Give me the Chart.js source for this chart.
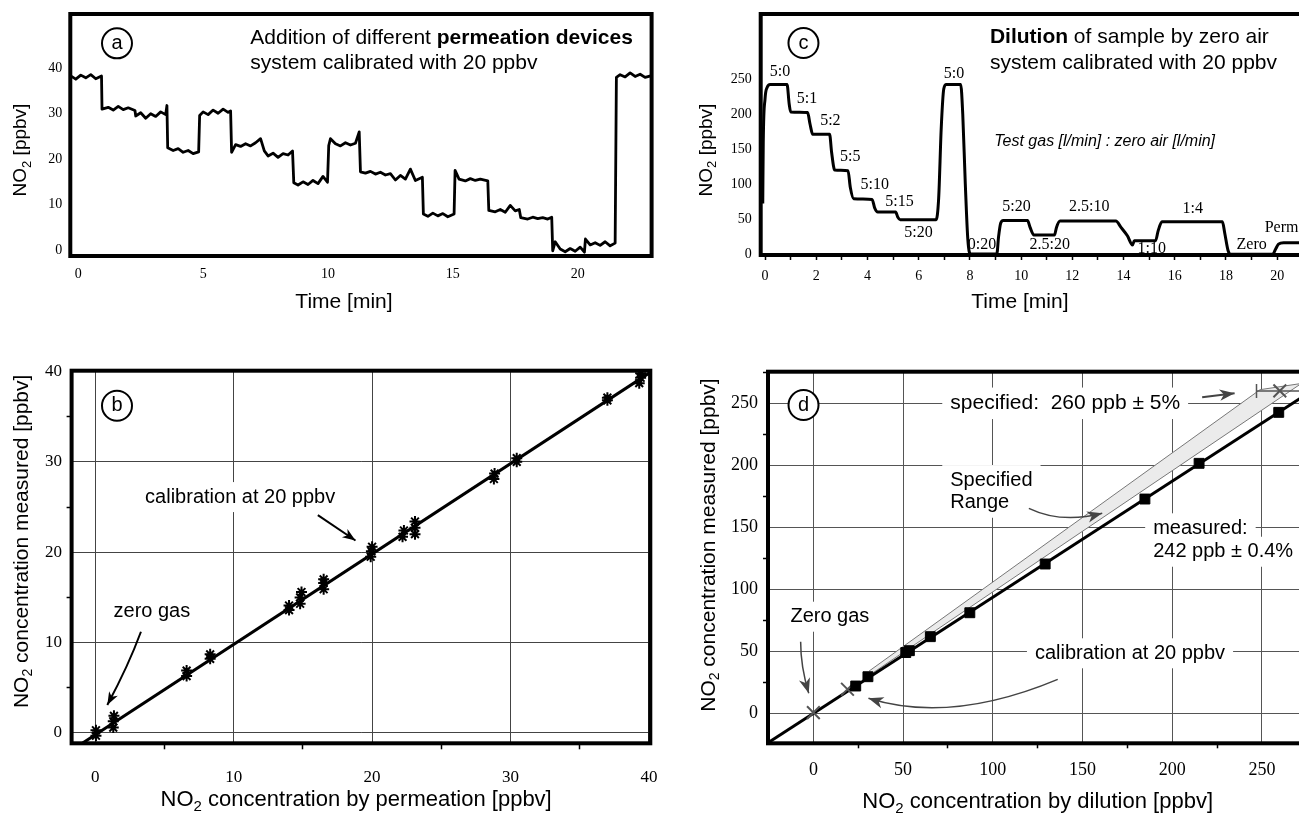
<!DOCTYPE html>
<html>
<head>
<meta charset="utf-8">
<script src="https://cdn.jsdelivr.net/npm/chart.js@4.4.1/dist/chart.umd.min.js"></script>
<style>
  html, body { margin: 0; padding: 0; background: #fff; }
  #page { position: relative; width: 1299px; height: 818px; overflow: hidden; background: #fff; }
  canvas { position: absolute; }
</style>
</head>
<body>
<div id="page">
  <canvas id="chartA" width="660" height="320" style="left:0;top:0"></canvas>
  <canvas id="chartC" width="700" height="320" style="left:660px;top:0"></canvas>
  <canvas id="chartB" width="660" height="498" style="left:0;top:320px"></canvas>
  <canvas id="chartD" width="700" height="498" style="left:660px;top:320px"></canvas>
</div>
<script>
const SANS = '"Liberation Sans", Arial, Helvetica, sans-serif';
const SERIF = '"Liberation Serif", "Times New Roman", serif';

// (a) permeation devices, time series
const timeA = [
  -0.32, -0.1, 0.1, 0.3, 0.5, 0.7, 0.93,
  0.95, 1.2, 1.4, 1.6, 1.8, 2.0, 2.27,
  2.3, 2.5, 2.7, 2.9, 3.1, 3.3, 3.5, 3.55,
  3.58, 3.8, 4.0, 4.2, 4.4, 4.6, 4.82,
  4.86, 5.0, 5.2, 5.4, 5.6, 5.8, 6.0, 6.1,
  6.14, 6.3, 6.5, 6.7, 6.9, 7.1, 7.3,
  7.45, 7.6, 7.8, 8.0, 8.2, 8.4, 8.58,
  8.63, 8.8, 9.0, 9.2, 9.4, 9.6, 9.8, 9.98,
  10.03, 10.1, 10.3, 10.5, 10.7, 10.9, 11.1, 11.25,
  11.3, 11.5, 11.7, 11.9, 12.1, 12.3, 12.5,
  12.7, 12.9, 13.1, 13.3, 13.5, 13.78,
  13.82, 14.0, 14.2, 14.4, 14.6, 14.8, 15.05,
  15.09, 15.25, 15.5, 15.7, 15.9, 16.1, 16.4,
  16.44, 16.7, 16.9, 17.1, 17.3, 17.5, 17.66,
  17.72, 18.0, 18.2, 18.4, 18.6, 18.8, 18.96,
  19.0, 19.1, 19.3, 19.5, 19.7, 19.9, 20.1, 20.27,
  20.31, 20.5, 20.7, 20.9, 21.1, 21.3, 21.5,
  21.55, 21.7, 21.9, 22.1, 22.3, 22.5, 22.7, 22.96
];
const no2A = [
  38.4, 37.6, 38.5, 37.9, 38.6, 37.7, 38.3,
  31.0, 31.4, 30.8, 31.6, 30.9, 31.3, 30.7,
  29.5, 30.2, 29.0, 30.0, 29.4, 30.4, 29.8, 31.8,
  22.5, 21.9, 22.3, 21.5, 21.9, 21.2, 21.6,
  29.6, 30.4, 29.8, 30.8, 30.1, 31.0, 30.3, 30.6,
  21.5, 23.2, 22.8, 23.4, 22.9, 23.6, 24.5,
  21.8, 20.7, 21.3, 20.4, 21.2, 20.9, 21.8,
  14.8, 14.3, 15.0, 14.4, 15.3, 14.6, 16.2, 14.9,
  23.0, 24.5, 23.4, 22.9, 23.6, 23.1, 23.5, 26.0,
  17.2, 16.9, 17.3, 16.7, 17.1, 16.5, 16.8,
  15.4, 16.4, 15.6, 17.8, 15.3, 16.0,
  7.9, 7.4, 8.1, 7.5, 8.0, 7.3, 7.9,
  17.5, 15.6, 15.2, 15.7, 15.3, 15.6, 15.2,
  8.7, 8.4, 8.9, 8.3, 9.8, 8.6, 8.9,
  7.1, 6.8, 7.2, 6.9, 7.1, 6.8, 7.2,
  -0.2, 1.8, 0.2, -0.4, 0.3, -0.3, 0.6, -0.5,
  2.4, 1.1, 1.6, 1.0, 1.8, 0.9, 1.5,
  38.0, 38.6, 38.1, 39.0, 38.2, 38.7, 38.0, 38.4
];
const xTicksA = [0, 5, 10, 15, 20];
const yTicksA = [0, 10, 20, 30, 40];

// (c) dilution by zero air, time series
const timeC = [-0.09, -0.07, 0.0, 0.08, 0.2, 0.86, 0.94, 1.0, 1.66, 1.76, 1.86, 2.52, 2.6, 2.72, 3.24,
  3.33, 3.46, 4.18, 4.28, 4.4, 5.1, 5.18, 5.28, 6.68, 6.78, 6.88, 6.98, 7.08, 7.64, 7.72, 7.82, 7.92,
  8.02, 9.05, 9.12, 9.2, 9.3, 10.25, 10.35, 10.5, 11.3, 11.38, 11.52, 13.7, 13.9, 14.15, 14.35, 14.42,
  15.25, 15.35, 15.5, 17.86, 17.95, 18.08, 18.18, 19.82, 19.95, 20.05, 20.25, 22.6];
const no2C = [72, 160, 222, 238, 242, 242, 215, 203, 202, 185, 171, 171, 145, 120, 119,
  95, 79, 78, 66, 60, 60, 53, 49, 49, 80, 180, 236, 242, 242, 200, 100, 20,
  0, 0, 25, 44, 48, 48, 38, 27, 27, 38, 47, 47, 38, 26, 13, 19,
  19, 33, 46, 46, 30, 5, -0.5, -0.5, 8, 14, 16, 16];
const xTicksC = [0, 1, 2, 3, 4, 5, 6, 7, 8, 9, 10, 11, 12, 13, 14, 15, 16, 17, 18, 19, 20, 21, 22];
const xLabelsC = [0, 2, 4, 6, 8, 10, 12, 14, 16, 18, 20, 22];
const yTicksC = [0, 50, 100, 150, 200, 250];
const ratioNames = ['5:0', '5:1', '5:2', '5:5', '5:10', '5:15', '5:20', '5:0', '0:20', '5:20', '2.5:20', '2.5:10', '1:10', '1:4', 'Zero', 'Perm'];
const ratioTime = [0.58, 1.64, 2.55, 3.33, 4.28, 5.25, 5.99, 7.38, 8.47, 9.82, 11.12, 12.66, 15.1, 16.7, 19.0, 20.17];
const ratioLevel = [260, 222, 190, 139, 99, 74, 30, 258, 13, 68, 13, 67, 8, 64, 13, 37];

// (b) measured vs permeation
const permX = [0.05, 0.05, 1.3, 1.3, 1.35, 6.6, 6.6, 8.3, 8.3, 14.0, 14.0, 14.8, 14.8, 14.9, 16.5, 16.5, 16.5,
  19.9, 19.95, 20.0, 22.2, 22.3, 23.1, 23.1, 23.1, 28.8, 28.85, 30.45, 30.45, 37.0, 37.0, 39.3, 39.4, 39.4];
const permMeasY = [-0.3, 0.3, 0.6, 1.3, 1.9, 6.3, 6.9, 8.2, 8.7, 13.6, 14.1, 14.3, 15.0, 15.6, 15.9, 16.6, 17.0,
  19.5, 20.1, 20.6, 21.7, 22.4, 22.0, 22.7, 23.4, 28.1, 28.7, 30.0, 30.4, 36.8, 37.1, 38.7, 39.3, 39.8];
const fitXB = [-1.8, 40.5];
const fitYB = [-2.0, 40.3];
const majorB = [0, 10, 20, 30, 40];
const minorB = [5, 15, 25, 35];

// (d) measured vs dilution
const dilX = [23.6, 30.4, 51.5, 53.5, 65.2, 87.2, 129.2, 184.8, 215, 259.4];
const dilMeasY = [22, 29.5, 49, 50.5, 61.8, 81.1, 120.4, 172.8, 201.6, 242.7];
const calX = [0, 19];
const calY = [0.5, 19.4];
const specX = [260];
const specY = [260];
const specErrX = [247, 273];
const fitXD = [-25.3, 290];
const fitYD = [-23.7, 271.4];
const bandX = [31, 249, 272, 31];
const bandY = [34, 261, 266, 30.5];
const majorD = [0, 50, 100, 150, 200, 250];
const minorD = [25, 75, 125, 175, 225, 275];

const pts = (xs, ys) => xs.map((x, i) => ({ x: x, y: ys[i] }));

function toPx(chart, x, y) {
  return [chart.scales.x.getPixelForValue(x), chart.scales.y.getPixelForValue(y)];
}

// fixed axis box so the plot frame lands where the figure has it
function fixX(h) {
  return s => { s.height = h; s.paddingLeft = 0; s.paddingRight = 0; };
}
function fixY(w) {
  return s => { s.width = w; s.paddingTop = 0; s.paddingBottom = 0; };
}

function runFont(style, size) {
  if (style === 'sub') return Math.round(size * 0.68) + 'px ' + SANS;
  if (style === 'serif') return size + 'px ' + SERIF;
  return (style === 'bold' ? 'bold ' : style === 'italic' ? 'italic ' : '') + size + 'px ' + SANS;
}

function runsWidth(ctx, runs, size) {
  let w = 0;
  runs.forEach(([t, s]) => { ctx.font = runFont(s, size); w += ctx.measureText(t).width; });
  return w;
}

function drawRuns(ctx, runs, x, y, size, align, rotate) {
  ctx.save();
  ctx.translate(x, y);
  if (rotate) ctx.rotate(-Math.PI / 2);
  const total = runsWidth(ctx, runs, size);
  let cx = align === 'center' ? -total / 2 : 0;
  ctx.textAlign = 'left';
  ctx.textBaseline = 'middle';
  ctx.fillStyle = '#000';
  runs.forEach(([t, s]) => {
    ctx.font = runFont(s, size);
    ctx.fillText(t, cx, s === 'sub' ? size * 0.32 : 0);
    cx += ctx.measureText(t).width;
  });
  ctx.restore();
}

function frame(chart, w) {
  const a = chart.chartArea, ctx = chart.ctx;
  ctx.save();
  ctx.strokeStyle = '#000';
  ctx.lineWidth = w;
  ctx.strokeRect(a.left, a.top, a.right - a.left, a.bottom - a.top);
  ctx.restore();
}

function tag(chart, letter, x, y) {
  const ctx = chart.ctx;
  const [cx, cy] = toPx(chart, x, y);
  ctx.save();
  ctx.beginPath();
  ctx.arc(cx, cy, 15, 0, Math.PI * 2);
  ctx.fillStyle = '#fff';
  ctx.fill();
  ctx.lineWidth = 2;
  ctx.strokeStyle = '#000';
  ctx.stroke();
  ctx.restore();
  drawRuns(ctx, [[letter, '']], cx, cy, 20, 'center');
}

// straight or curved (through a middle point) arrow in data units
function arrow(chart, path, color, width, head) {
  const ctx = chart.ctx;
  const p = path.map(([x, y]) => toPx(chart, x, y));
  ctx.save();
  ctx.strokeStyle = color;
  ctx.fillStyle = color;
  ctx.lineWidth = width;
  ctx.beginPath();
  ctx.moveTo(p[0][0], p[0][1]);
  let from;
  if (p.length === 3) {
    const cx = 2 * p[1][0] - (p[0][0] + p[2][0]) / 2;
    const cy = 2 * p[1][1] - (p[0][1] + p[2][1]) / 2;
    ctx.quadraticCurveTo(cx, cy, p[2][0], p[2][1]);
    from = [cx, cy];
  } else {
    ctx.lineTo(p[1][0], p[1][1]);
    from = p[0];
  }
  ctx.stroke();
  const [ex, ey] = p[p.length - 1];
  const a = Math.atan2(ey - from[1], ex - from[0]);
  const c = Math.cos(a), s = Math.sin(a), w = head * 0.38;
  ctx.beginPath();
  ctx.moveTo(ex, ey);
  ctx.lineTo(ex - head * c + w * s, ey - head * s - w * c);
  ctx.lineTo(ex - head * 0.72 * c, ey - head * 0.72 * s);
  ctx.lineTo(ex - head * c - w * s, ey - head * s + w * c);
  ctx.closePath();
  ctx.fill();
  ctx.restore();
}

// notes: text in data units; bg = white box that cuts the grid, under = drawn below the data
function notesPlugin(id, notes, above) {
  return {
    id: id,
    beforeDatasetsDraw(chart) {
      const ctx = chart.ctx;
      notes.forEach(n => {
        const [x, y] = toPx(chart, n.x, n.y);
        if (n.bg) {
          const w = runsWidth(ctx, n.runs, n.size);
          const left = n.align === 'center' ? x - w / 2 : x;
          ctx.save();
          ctx.fillStyle = '#fff';
          ctx.fillRect(left - 8, y - n.size * 0.75, w + 16, n.size * 1.5);
          ctx.restore();
        }
        if (n.under) drawRuns(ctx, n.runs, x, y, n.size, n.align);
      });
    },
    afterDraw(chart) {
      notes.filter(n => !n.under).forEach(n => {
        const [x, y] = toPx(chart, n.x, n.y);
        drawRuns(chart.ctx, n.runs, x, y, n.size, n.align);
      });
      above(chart);
    }
  };
}

const NO2 = [['NO', ''], ['2', 'sub']];

// ---------- (a)
const notesA = [
  { runs: [['Addition of different ', ''], ['permeation devices', 'bold']], x: 6.89, y: 46.7, size: 21, align: 'left' },
  { runs: [['system calibrated with 20 ppbv', '']], x: 6.89, y: 41.1, size: 21, align: 'left' }
];
new Chart(document.getElementById('chartA'), {
  type: 'scatter',
  data: {
    datasets: [{
      data: pts(timeA, no2A),
      showLine: true,
      borderColor: '#000',
      borderWidth: 2.8,
      borderJoinStyle: 'round',
      pointRadius: 0
    }]
  },
  options: {
    responsive: false,
    animation: false,
    devicePixelRatio: 1,
    layout: { autoPadding: false, padding: { top: 14, right: 8.4, left: 0, bottom: 0 } },
    plugins: { legend: { display: false }, tooltip: { enabled: false } },
    scales: {
      x: {
        type: 'linear', min: -0.32, max: 22.96,
        afterFit: fixX(64),
        afterBuildTicks: s => { s.ticks = xTicksA.map(v => ({ value: v })); },
        grid: { display: false, drawTicks: false },
        border: { display: false },
        ticks: { font: { family: SERIF, size: 14 }, color: '#000', padding: 10, maxRotation: 0, autoSkip: false }
      },
      y: {
        type: 'linear', min: -1.34, max: 51.96,
        afterFit: fixY(70.3),
        afterBuildTicks: s => { s.ticks = yTicksA.map(v => ({ value: v })); },
        grid: { display: false, drawTicks: false },
        border: { display: false },
        ticks: { font: { family: SERIF, size: 14 }, color: '#000', padding: 8 }
      }
    }
  },
  plugins: [notesPlugin('notesA', notesA, chart => {
    frame(chart, 4);
    tag(chart, 'a', 1.55, 45.5);
    const a = chart.chartArea;
    drawRuns(chart.ctx, [['Time [min]', '']], chart.scales.x.getPixelForValue(10.64), a.bottom + 46, 21, 'center');
    drawRuns(chart.ctx, NO2.concat([[' [ppbv]', '']]), 21, chart.scales.y.getPixelForValue(22), 19, 'center', true);
  })]
});

// ---------- (c)
const notesC = [
  { runs: [['Dilution', 'bold'], [' of sample by zero air', '']], x: 8.78, y: 310.4, size: 21, align: 'left' },
  { runs: [['system calibrated with 20 ppbv', '']], x: 8.78, y: 272.4, size: 21, align: 'left' },
  { runs: [['Test gas [l/min] : zero air [l/min]', 'italic']], x: 8.95, y: 160.4, size: 16, align: 'left' }
].concat(ratioNames.map((name, i) => ({
  runs: [[name, 'serif']], x: ratioTime[i], y: ratioLevel[i], size: 16, align: 'center', under: true
})));
new Chart(document.getElementById('chartC'), {
  type: 'scatter',
  data: {
    datasets: [{
      data: pts(timeC, no2C),
      showLine: true,
      borderColor: '#000',
      borderWidth: 3,
      cubicInterpolationMode: 'monotone',
      pointRadius: 0
    }]
  },
  options: {
    responsive: false,
    animation: false,
    devicePixelRatio: 1,
    layout: { autoPadding: false, padding: { top: 14, right: 18, left: 0, bottom: 0 } },
    plugins: { legend: { display: false }, tooltip: { enabled: false } },
    scales: {
      x: {
        type: 'linear', min: -0.17, max: 22.53,
        afterFit: fixX(65),
        afterBuildTicks: s => { s.ticks = xTicksC.map(v => ({ value: v })); },
        grid: { drawOnChartArea: false, drawTicks: true, tickLength: 5, tickWidth: 1.5, tickColor: '#000' },
        border: { display: false },
        ticks: {
          font: { family: SERIF, size: 14 }, color: '#000', padding: 8, maxRotation: 0, autoSkip: false,
          callback: v => (xLabelsC.includes(v) ? String(v) : '')
        }
      },
      y: {
        type: 'linear', min: -1.43, max: 342.9,
        afterFit: fixY(100.7),
        afterBuildTicks: s => { s.ticks = yTicksC.map(v => ({ value: v })); },
        grid: { display: false, drawTicks: false },
        border: { display: false },
        ticks: { font: { family: SERIF, size: 14 }, color: '#000', padding: 9 }
      }
    }
  },
  plugins: [notesPlugin('notesC', notesC, chart => {
    frame(chart, 4);
    tag(chart, 'c', 1.5, 301.4);
    const a = chart.chartArea;
    drawRuns(chart.ctx, [['Time [min]', '']], chart.scales.x.getPixelForValue(9.95), a.bottom + 47, 21, 'center');
    drawRuns(chart.ctx, NO2.concat([[' [ppbv]', '']]), 46.7, chart.scales.y.getPixelForValue(148.6), 19, 'center', true);
  })]
});

// ---------- (b)
const notesB = [
  { runs: [['calibration at 20 ppbv', '']], x: 3.6, y: 26.1, size: 20, align: 'left', bg: true },
  { runs: [['zero gas', '']], x: 1.32, y: 13.4, size: 20, align: 'left', bg: true }
];
const gridMajorB = ctx => (ctx.tick && majorB.includes(ctx.tick.value) ? '#444' : 'rgba(0,0,0,0)');
const tickMinorB = ctx => (ctx.tick && minorB.includes(ctx.tick.value) ? '#000' : 'rgba(0,0,0,0)');
new Chart(document.getElementById('chartB'), {
  type: 'scatter',
  data: {
    datasets: [{
      data: pts(permX, permMeasY),
      pointStyle: 'star',
      pointRadius: 5.5,
      pointBorderWidth: 2,
      pointBorderColor: '#000',
      showLine: false
    }, {
      data: pts(fitXB, fitYB),
      showLine: true,
      borderColor: '#000',
      borderWidth: 3,
      pointRadius: 0
    }]
  },
  options: {
    responsive: false,
    animation: false,
    devicePixelRatio: 1,
    layout: { autoPadding: false, padding: { top: 50.7, right: 9.7, left: 0, bottom: 0 } },
    plugins: { legend: { display: false }, tooltip: { enabled: false } },
    scales: {
      x: {
        type: 'linear', min: -1.71, max: 40.1,
        afterFit: fixX(74.7),
        afterBuildTicks: s => { s.ticks = majorB.concat(minorB).sort((p, q) => p - q).map(v => ({ value: v })); },
        grid: { color: gridMajorB, lineWidth: 1, tickLength: 6, tickColor: tickMinorB, tickWidth: 1.5 },
        border: { display: false },
        ticks: {
          font: { family: SERIF, size: 17 }, color: '#000', padding: 18, maxRotation: 0, autoSkip: false,
          callback: v => (majorB.includes(v) ? String(v) : '')
        }
      },
      y: {
        type: 'linear', min: -1.14, max: 40.08,
        afterFit: fixY(71.6),
        afterBuildTicks: s => { s.ticks = majorB.concat(minorB).sort((p, q) => p - q).map(v => ({ value: v })); },
        grid: { color: gridMajorB, lineWidth: 1, tickLength: 5, tickColor: tickMinorB, tickWidth: 1.5 },
        border: { display: false },
        ticks: {
          font: { family: SERIF, size: 17 }, color: '#000', padding: 4.6, autoSkip: false,
          callback: v => (majorB.includes(v) ? String(v) : '')
        }
      }
    }
  },
  plugins: [notesPlugin('notesB', notesB, chart => {
    frame(chart, 4);
    tag(chart, 'b', 1.57, 36.2);
    arrow(chart, [[16.08, 24.1], [18.8, 21.3]], '#000', 2, 13);
    arrow(chart, [[3.3, 11.2], [2.24, 7.3], [0.87, 3.1]], '#000', 2, 13);
    const a = chart.chartArea;
    drawRuns(chart.ctx, NO2.concat([[' concentration by permeation [ppbv]', '']]),
      chart.scales.x.getPixelForValue(18.85), a.bottom + 56.7, 22, 'center');
    drawRuns(chart.ctx, NO2.concat([[' concentration measured [ppbv]', '']]),
      21.9, chart.scales.y.getPixelForValue(21.2), 21, 'center', true);
  })]
});

// ---------- (d)
const notesD = [
  { runs: [['specified:  260 ppb \u00b1 5%', '']], x: 76.3, y: 250, size: 21, align: 'left', bg: true },
  { runs: [['Specified', '']], x: 76.3, y: 188.1, size: 20, align: 'left', bg: true },
  { runs: [['Range', '']], x: 76.3, y: 169.8, size: 20, align: 'left', bg: true },
  { runs: [['measured:', '']], x: 189.4, y: 149.2, size: 20, align: 'left', bg: true },
  { runs: [['242 ppb \u00b1 0.4%', '']], x: 189.4, y: 130.3, size: 20, align: 'left', bg: true },
  { runs: [['Zero gas', '']], x: -12.8, y: 77.9, size: 20, align: 'left', bg: true },
  { runs: [['calibration at 20 ppbv', '']], x: 123.5, y: 48.4, size: 20, align: 'left', bg: true }
];
const gridMajorD = ctx => (ctx.tick && majorD.includes(ctx.tick.value) ? '#555' : 'rgba(0,0,0,0)');
const tickMinorD = ctx => (ctx.tick && minorD.includes(ctx.tick.value) ? '#000' : 'rgba(0,0,0,0)');
new Chart(document.getElementById('chartD'), {
  type: 'scatter',
  data: {
    datasets: [{
      data: pts(dilX, dilMeasY),
      pointStyle: 'rect',
      pointRadius: 7,
      pointBackgroundColor: '#000',
      pointBorderColor: '#000',
      showLine: false
    }, {
      data: pts(calX, calY),
      pointStyle: 'crossRot',
      pointRadius: 9,
      pointBorderWidth: 2,
      pointBorderColor: '#555',
      showLine: false
    }, {
      data: pts(specX, specY),
      pointStyle: 'crossRot',
      pointRadius: 9,
      pointBorderWidth: 2,
      pointBorderColor: '#555',
      showLine: false
    }, {
      data: pts(specErrX, [specY[0], specY[0]]),
      showLine: true,
      borderColor: '#555',
      borderWidth: 1.5,
      pointStyle: 'line',
      rotation: 90,
      pointRadius: 7,
      pointBorderWidth: 1.5,
      pointBorderColor: '#555'
    }, {
      data: pts(fitXD, fitYD),
      showLine: true,
      borderColor: '#000',
      borderWidth: 3,
      pointRadius: 0
    }, {
      data: pts(bandX, bandY),
      showLine: true,
      fill: 'shape',
      backgroundColor: '#ebebeb',
      borderColor: '#777',
      borderWidth: 1,
      pointRadius: 0
    }]
  },
  options: {
    responsive: false,
    animation: false,
    devicePixelRatio: 1,
    layout: { autoPadding: false, padding: { top: 51.7, right: 26, left: 0, bottom: 0 } },
    plugins: { legend: { display: false }, tooltip: { enabled: false } },
    scales: {
      x: {
        type: 'linear', min: -25.3, max: 290.2,
        afterFit: fixX(74.7),
        afterBuildTicks: s => { s.ticks = majorD.concat(minorD).sort((p, q) => p - q).map(v => ({ value: v })); },
        grid: { color: gridMajorD, lineWidth: 1, tickLength: 5, tickColor: tickMinorD, tickWidth: 1.5 },
        border: { display: false },
        ticks: {
          font: { family: SERIF, size: 18 }, color: '#000', padding: 11, maxRotation: 0, autoSkip: false,
          callback: v => (majorD.includes(v) ? String(v) : '')
        }
      },
      y: {
        type: 'linear', min: -24.2, max: 275.5,
        afterFit: fixY(108),
        afterBuildTicks: s => { s.ticks = majorD.concat(minorD).sort((p, q) => p - q).map(v => ({ value: v })); },
        grid: { color: gridMajorD, lineWidth: 1, tickLength: 5, tickColor: tickMinorD, tickWidth: 1.5 },
        border: { display: false },
        ticks: {
          font: { family: SERIF, size: 18 }, color: '#000', padding: 5, autoSkip: false,
          callback: v => (majorD.includes(v) ? String(v) : '')
        }
      }
    }
  },
  plugins: [notesPlugin('notesD', notesD, chart => {
    frame(chart, 4);
    tag(chart, 'd', -5.5, 248.6);
    arrow(chart, [[216.7, 254.8], [234.8, 258.1]], '#444', 2, 15);
    arrow(chart, [[120.1, 165.3], [139.4, 158.0], [161, 161.3]], '#444', 1.5, 15);
    arrow(chart, [[-7.1, 57.7], [-6, 37.6], [-2.6, 16.1]], '#444', 1.5, 15);
    arrow(chart, [[136.2, 27.4], [80, 5.5], [30.7, 12.1]], '#444', 1.5, 15);
    const a = chart.chartArea;
    drawRuns(chart.ctx, NO2.concat([[' concentration by dilution [ppbv]', '']]),
      chart.scales.x.getPixelForValue(125), a.bottom + 58.4, 22, 'center');
    drawRuns(chart.ctx, NO2.concat([[' concentration measured [ppbv]', '']]),
      48.9, chart.scales.y.getPixelForValue(135.7), 21, 'center', true);
  })]
});
</script>
</body>
</html>
